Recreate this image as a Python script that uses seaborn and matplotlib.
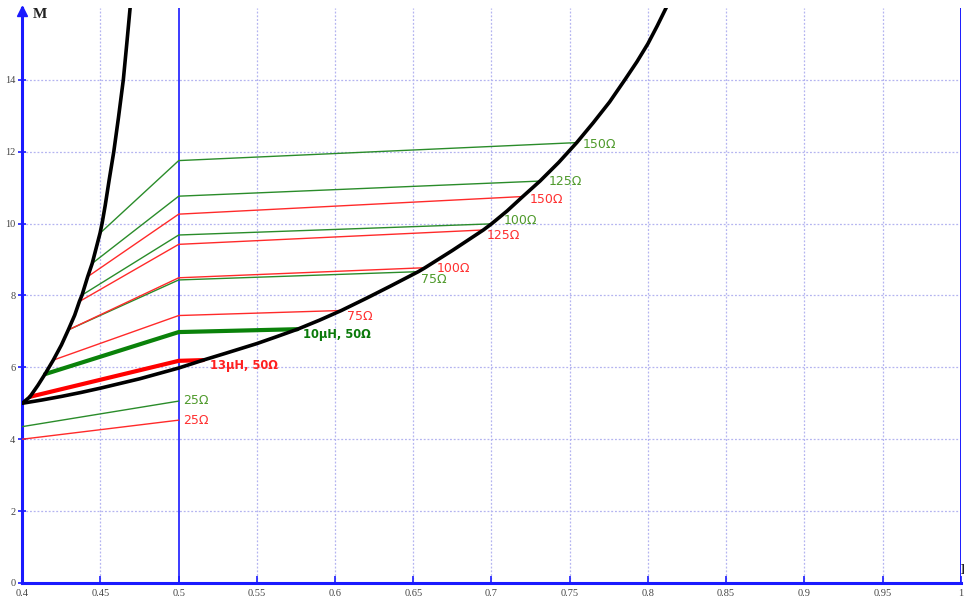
import matplotlib
matplotlib.use("Agg")
import matplotlib.pyplot as plt
import seaborn as sns

sns.set_theme(style="white")
plt.rcParams['font.family'] = ['DejaVu Sans']

# Boundary curves M(x)
left_x = [0.400, 0.4049, 0.4100, 0.4145, 0.4198, 0.4250, 0.4294, 0.4335, 0.4365,
          0.4382, 0.4418, 0.4447, 0.4497, 0.4510, 0.4530, 0.4555, 0.4585, 0.4615,
          0.4646, 0.4668, 0.4690]
left_y = [5.00, 5.18, 5.50, 5.81, 6.20, 6.62, 7.04, 7.45, 7.83,
          8.01, 8.52, 8.89, 9.73, 10.00, 10.50, 11.20, 12.00, 12.95,
          14.00, 15.00, 16.03]

right_x = [0.400, 0.4125, 0.425, 0.4375, 0.450, 0.4625, 0.475, 0.4875, 0.500, 0.5157,
           0.530, 0.550, 0.5625, 0.576, 0.590, 0.604, 0.620, 0.635, 0.6532, 0.6575,
           0.675, 0.6948, 0.700, 0.710, 0.720, 0.731, 0.743, 0.7545, 0.765, 0.7755,
           0.7853, 0.793, 0.800, 0.806, 0.812]
right_y = [5.00, 5.09, 5.19, 5.30, 5.42, 5.55, 5.68, 5.83, 5.98, 6.20,
           6.39, 6.66, 6.85, 7.06, 7.31, 7.58, 7.92, 8.25, 8.66, 8.77,
           9.25, 9.82, 9.99, 10.35, 10.75, 11.18, 11.70, 12.25, 12.80, 13.38,
           14.00, 14.50, 15.00, 15.50, 16.03]

# Resistance branches (green family)
green_names = ["25Ω", "75Ω", "100Ω", "125Ω", "150Ω"]
green_x0 = [0.400, 0.4294, 0.4382, 0.4447, 0.4497]
green_y0 = [4.35, 7.04, 8.01, 8.89, 9.73]
green_ymid = [5.06, 8.43, 9.68, 10.76, 11.75]
green_x1 = [None, 0.6532, 0.700, 0.731, 0.7545]
green_y1 = [None, 8.66, 9.99, 11.18, 12.25]

# Resistance branches (red family)
red_names = ["25Ω", "75Ω", "100Ω", "125Ω", "150Ω"]
red_x0 = [0.400, 0.4198, 0.4294, 0.4365, 0.4418]
red_y0 = [4.00, 6.20, 7.04, 7.83, 8.52]
red_ymid = [4.53, 7.44, 8.49, 9.42, 10.26]
red_x1 = [None, 0.604, 0.6575, 0.6948, 0.720]
red_y1 = [None, 7.58, 8.77, 9.82, 10.75]

# Highlighted design points
hl_names = ["10µH, 50Ω", "13µH, 50Ω"]
hl_x0 = [0.4145, 0.4049]
hl_y0 = [5.81, 5.18]
hl_ymid = [6.98, 6.18]
hl_x1 = [0.576, 0.5157]
hl_y1 = [7.06, 6.20]

x_ticks = [0.4, 0.45, 0.5, 0.55, 0.6, 0.65, 0.7, 0.75, 0.8, 0.85, 0.9, 0.95, 1.0]
y_ticks = [0, 2, 4, 6, 8, 10, 12, 14]
x_kink = 0.5

W, H = 964, 604
fig = plt.figure(figsize=(W / 100, H / 100), dpi=100)
ax = fig.add_axes([22.3 / W, (H - 583) / H, (960.7 - 22.3) / W, (583 - 7.8) / H])
ax.set_xlim(0.4, 1.0)
ax.set_ylim(0, 16)

BLUE = "#1a1aff"
GRID = "#b4b4f0"

# grid
for xv in x_ticks[1:-1]:
    if abs(xv - x_kink) > 1e-9:
        ax.axvline(xv, color=GRID, lw=0.9, ls=(0, (1.5, 1.5)), zorder=0)
for yv in y_ticks[1:]:
    ax.axhline(yv, color=GRID, lw=0.9, ls=(0, (1.5, 1.5)), zorder=0)
ax.axvline(x_kink, color=BLUE, lw=1.2, zorder=1)
ax.axvline(1.0, color=BLUE, lw=1.4, zorder=1)


def branch(x0, y0, ymid, x1, y1):
    xs, ys = [x0, x_kink], [y0, ymid]
    if x1 is not None:
        xs.append(x1)
        ys.append(y1)
    return xs, ys


def label_at(text, x, y, dx, dy, color, bold=False):
    ax.annotate(text, (x, y), xytext=(dx, -dy), textcoords="offset pixels",
                ha="left", va="center", color=color,
                fontsize=8.3 if bold else 9,
                fontweight="bold" if bold else "normal", zorder=6)


GREEN_LINE = "#2a8c2a"
GREEN_TXT = "#4f9a2c"
RED_LINE = "#ff2a2a"
RED_TXT = "#ff3030"

green_off = [(4, -1), (3, 8), (12, -3), (9, 0), (6, 2)]
red_off = [(4, 0), (6, 6), (12, 1), (3, 6), (7, 3)]

for i, name in enumerate(green_names):
    xs, ys = branch(green_x0[i], green_y0[i], green_ymid[i], green_x1[i], green_y1[i])
    sns.lineplot(x=xs, y=ys, ax=ax, color=GREEN_LINE, lw=1.0, sort=False,
                 estimator=None, zorder=3)
    label_at(name, xs[-1], ys[-1], *green_off[i], GREEN_TXT)

for i, name in enumerate(red_names):
    xs, ys = branch(red_x0[i], red_y0[i], red_ymid[i], red_x1[i], red_y1[i])
    sns.lineplot(x=xs, y=ys, ax=ax, color=RED_LINE, lw=1.0, sort=False,
                 estimator=None, zorder=3)
    label_at(name, xs[-1], ys[-1], *red_off[i], RED_TXT)

hl_colors = ["#0a820a", "#ff0000"]
hl_txt = ["#0a7a0a", "#ff2020"]
hl_off = [(5, 5), (7, 5)]
for i, name in enumerate(hl_names):
    xs, ys = branch(hl_x0[i], hl_y0[i], hl_ymid[i], hl_x1[i], hl_y1[i])
    sns.lineplot(x=xs, y=ys, ax=ax, color=hl_colors[i], lw=3.0, sort=False,
                 estimator=None, zorder=4)
    label_at(name, xs[-1], ys[-1], *hl_off[i], hl_txt[i], bold=True)

# boundary curves
for cx, cy in [(left_x, left_y), (right_x, right_y)]:
    sns.lineplot(x=cx, y=cy, ax=ax, color="black", lw=2.6, sort=False,
                 estimator=None, zorder=5, solid_joinstyle="round")

# axes styling
for side in ["top", "right"]:
    ax.spines[side].set_visible(False)
ax.spines["left"].set_color(BLUE)
ax.spines["left"].set_linewidth(2.2)
ax.spines["bottom"].set_color(BLUE)
ax.spines["bottom"].set_linewidth(2.2)
ax.plot([0.4], [15.9], marker="^", color=BLUE, markersize=7, clip_on=False, zorder=7)

ax.set_xticks(x_ticks)
ax.set_xticklabels([f"{v:g}" for v in x_ticks])
ax.set_yticks(y_ticks)
ax.set_yticklabels([f"{v:g}" for v in y_ticks])
ax.tick_params(axis="x", direction="in", length=5, width=1.2, color=BLUE, pad=4,
               labelsize=7.5, labelcolor="#444444", bottom=True)
ax.tick_params(axis="y", direction="inout", length=6, width=1.2, color=BLUE, pad=2,
               labelsize=7.5, labelcolor="#444444", left=True)
for lab in ax.get_xticklabels() + ax.get_yticklabels():
    lab.set_family("Liberation Serif")

ax.set_xlabel("")
ax.set_ylabel("")
fig.text(32.5 / W, 1 - 15 / H, "M", family="Liberation Serif", fontweight="bold",
         fontsize=11, ha="left", va="center", color="#222222")
fig.text(960.5 / W, 1 - 570 / H, "L", family="Liberation Serif", fontweight="bold",
         fontsize=11, ha="left", va="center", color="#222222")

fig.savefig("out.png", dpi=100)
